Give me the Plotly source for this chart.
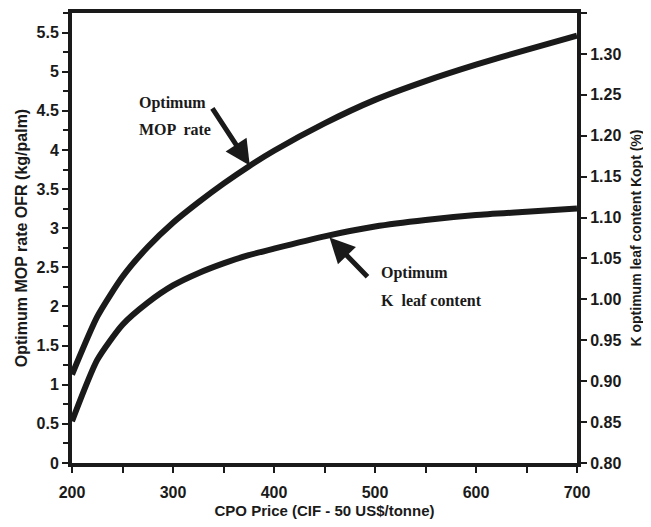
import plotly.graph_objects as go

price = [200, 225, 250, 275, 300, 325, 350, 375, 400, 450, 500, 550, 600, 650, 700]
mop_rate = [1.13, 1.87, 2.38, 2.76, 3.07, 3.33, 3.57, 3.79, 3.99, 4.34, 4.64, 4.88, 5.09, 5.28, 5.46]
k_leaf = [0.851, 0.926, 0.969, 0.996, 1.017, 1.032, 1.044, 1.054, 1.062, 1.077, 1.089, 1.097, 1.103, 1.107, 1.111]

x_ticks = [200, 300, 400, 500, 600, 700]
y_left_ticks = [0, 0.5, 1, 1.5, 2, 2.5, 3, 3.5, 4, 4.5, 5, 5.5]
y_left_labels = ["0", "0.5", "1", "1.5", "2", "2.5", "3", "3.5", "4", "4.5", "5", "5.5"]
y_right_ticks = [0.80, 0.85, 0.90, 0.95, 1.00, 1.05, 1.10, 1.15, 1.20, 1.25, 1.30, 1.35]
y_right_labels = ["%.2f" % v for v in y_right_ticks]

SANS = "Liberation Sans, Arial"
SERIF = "Liberation Serif, Times New Roman, serif"
INK = "#1a1a1a"

fig = go.Figure()
fig.add_trace(go.Scatter(x=price, y=mop_rate, mode="lines",
                         line=dict(color=INK, width=6, shape="spline", smoothing=0.6),
                         yaxis="y", showlegend=False))
fig.add_trace(go.Scatter(x=price, y=k_leaf, mode="lines",
                         line=dict(color=INK, width=6, shape="spline", smoothing=0.6),
                         yaxis="y2", showlegend=False))

tickfont = dict(family=SANS, size=16, color=INK, weight="bold")

# page body has a default 8px margin, so the figure is offset by 8px
fig.update_layout(
    width=643, height=519,
    margin=dict(l=64, r=74, t=5, b=64),
    paper_bgcolor="white", plot_bgcolor="white",
    xaxis=dict(range=[200, 700], tickvals=x_ticks, ticktext=[str(v) for v in x_ticks],
               ticks="outside", ticklen=6, tickwidth=2, tickcolor=INK, ticklabelstandoff=6,
               minor=dict(dtick=50, tick0=200, ticks="outside", ticklen=6, tickwidth=2, tickcolor=INK),
               showline=True, linewidth=4, linecolor=INK, mirror=True,
               showgrid=False, zeroline=False, tickfont=tickfont, automargin=False,
               title=dict(text="<b>CPO Price (CIF - 50 US$/tonne)</b>",
                          font=dict(family=SANS, size=15, color=INK), standoff=6)),
    yaxis=dict(range=[0, 5.75], tickvals=y_left_ticks, ticktext=y_left_labels,
               ticks="outside", ticklen=6, tickwidth=2, tickcolor=INK,
               minor=dict(dtick=0.25, tick0=0, ticks="outside", ticklen=5, tickwidth=2, tickcolor=INK),
               showline=True, linewidth=4, linecolor=INK,
               showgrid=False, zeroline=False, tickfont=tickfont, automargin=False,
               title=dict(text="<b>Optimum MOP rate OFR (kg/palm)</b>",
                          font=dict(family=SANS, size=16, color=INK), standoff=6)),
    yaxis2=dict(range=[0.80, 1.35], tickvals=y_right_ticks, ticktext=y_right_labels,
                overlaying="y", side="right",
                ticks="outside", ticklen=6, tickwidth=2, tickcolor=INK,
                showline=True, linewidth=4, linecolor=INK,
                showgrid=False, zeroline=False, tickfont=tickfont, automargin=False,
                title=dict(text="<b>K optimum leaf content Kopt (%)</b>",
                           font=dict(family=SANS, size=14, color=INK), standoff=12)),
)

annfont = dict(family=SERIF, size=16, color=INK)
fig.add_annotation(x=376, y=3.8, ax=338, ay=4.55, xref="x", yref="y", axref="x", ayref="y",
                   showarrow=True, arrowhead=2, arrowsize=1.0, arrowwidth=5, arrowcolor=INK, text="")
fig.add_annotation(x=455, y=2.88, ax=494, ay=2.36, xref="x", yref="y", axref="x", ayref="y",
                   showarrow=True, arrowhead=2, arrowsize=1.0, arrowwidth=5, arrowcolor=INK, text="")
fig.add_annotation(x=264, y=4.6, xref="x", yref="y", text="<b>Optimum</b>", showarrow=False,
                   xanchor="left", font=annfont)
fig.add_annotation(x=264, y=4.26, xref="x", yref="y", text="<b>MOP  rate</b>", showarrow=False,
                   xanchor="left", font=annfont)
fig.add_annotation(x=504, y=2.43, xref="x", yref="y", text="<b>Optimum</b>", showarrow=False,
                   xanchor="left", font=annfont)
fig.add_annotation(x=504, y=2.08, xref="x", yref="y", text="<b>K  leaf content</b>", showarrow=False,
                   xanchor="left", font=annfont)

fig.write_html("out.html")
